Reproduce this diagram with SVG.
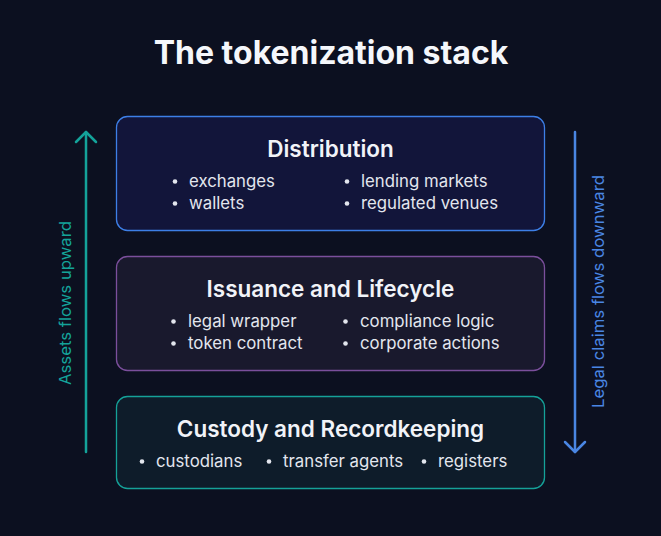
<svg xmlns="http://www.w3.org/2000/svg" width="661" height="536" viewBox="0 0 661 536">
<style>
text{font-family:Inter,"Noto Sans","Liberation Sans",sans-serif}
.title{font-size:32px;font-weight:700;fill:#f5f7fb}
.h{font-size:22.5px;font-weight:600;fill:#f1f3f8;text-anchor:middle}
.b{font-size:16.8px;fill:#e3e6ee}
.dot{fill:#e3e6ee}
.lbl{font-size:16.5px;text-anchor:middle}
</style>
<rect width="661" height="536" fill="#0c1020"/>
<text class="title" x="331" y="64" text-anchor="middle">The tokenization stack</text>

<g id="distribution">
<rect x="116.5" y="116.5" width="428" height="114" rx="11" fill="#12153a" stroke="#3d7fe6" stroke-width="1.3"/>
<text class="h" x="330.5" y="157">Distribution</text>
<circle class="dot" cx="175" cy="181.5" r="2.3"/><text class="b" x="189" y="187">exchanges</text>
<circle class="dot" cx="175" cy="203.5" r="2.3"/><text class="b" x="189" y="209">wallets</text>
<circle class="dot" cx="347" cy="181.5" r="2.3"/><text class="b" x="361" y="187">lending markets</text>
<circle class="dot" cx="347" cy="203.5" r="2.3"/><text class="b" x="361" y="209">regulated venues</text>
</g>

<g id="issuance">
<rect x="116.5" y="256.5" width="428" height="114" rx="11" fill="#19192d" stroke="#7b4f9c" stroke-width="1.3"/>
<text class="h" x="330.5" y="297">Issuance and Lifecycle</text>
<circle class="dot" cx="173.5" cy="321.5" r="2.3"/><text class="b" x="188" y="327">legal wrapper</text>
<circle class="dot" cx="173.5" cy="343.5" r="2.3"/><text class="b" x="188" y="349">token contract</text>
<circle class="dot" cx="345.5" cy="321.5" r="2.3"/><text class="b" x="360" y="327">compliance logic</text>
<circle class="dot" cx="345.5" cy="343.5" r="2.3"/><text class="b" x="360" y="349">corporate actions</text>
</g>

<g id="custody">
<rect x="116.5" y="396.5" width="428" height="92" rx="11" fill="#0e1c2a" stroke="#15a198" stroke-width="1.3"/>
<text class="h" x="330.5" y="437">Custody and Recordkeeping</text>
<circle class="dot" cx="142" cy="461.5" r="2.3"/><text class="b" x="156" y="467">custodians</text>
<circle class="dot" cx="269" cy="461.5" r="2.3"/><text class="b" x="283" y="467">transfer agents</text>
<circle class="dot" cx="424" cy="461.5" r="2.3"/><text class="b" x="438" y="467">registers</text>
</g>

<g id="connectors" fill="none" stroke-width="2.5" stroke-linecap="round" stroke-linejoin="round">
<g id="assets-up" stroke="#14a39a">
<line x1="86" y1="452" x2="86" y2="132"/>
<polyline points="76,142 86,132 96,142"/>
</g>
<g id="claims-down" stroke="#4a86e3">
<line x1="575" y1="132" x2="575" y2="452"/>
<polyline points="565,442 575,452 585,442"/>
</g>
</g>
<text class="lbl" fill="#14a39a" transform="translate(71,303) rotate(-90)" textLength="164" lengthAdjust="spacingAndGlyphs">Assets flows upward</text>
<text class="lbl" fill="#4a86e3" transform="translate(604,291.5) rotate(-90)" textLength="233" lengthAdjust="spacingAndGlyphs">Legal claims flows downward</text>
</svg>
